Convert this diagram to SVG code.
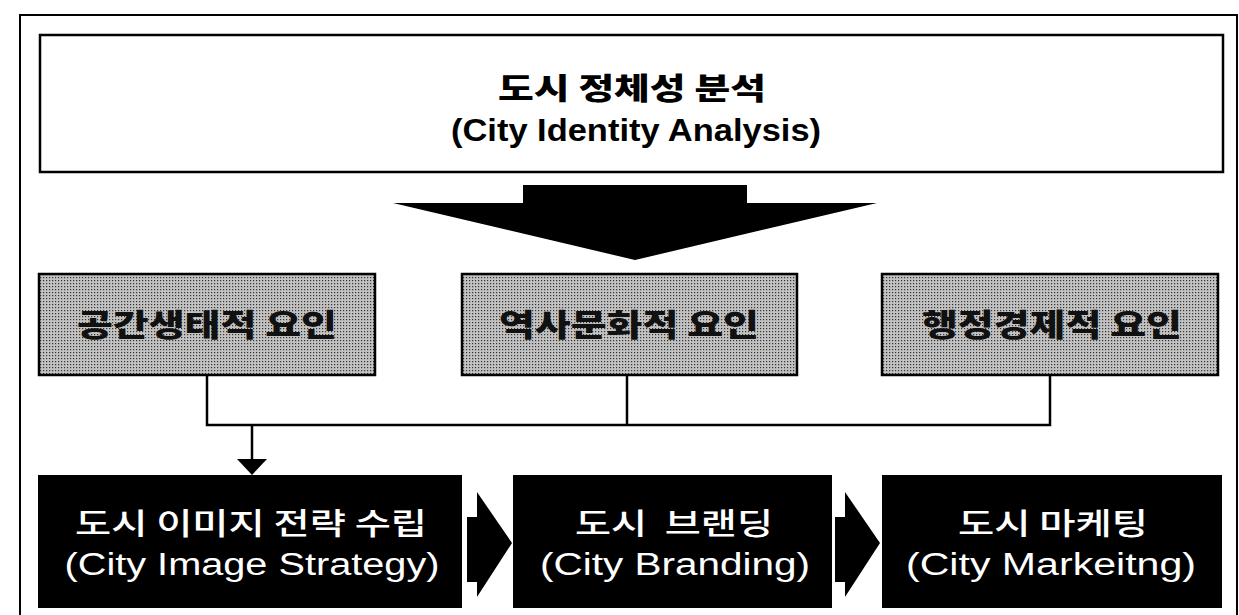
<svg xmlns="http://www.w3.org/2000/svg" width="1239" height="615" viewBox="0 0 1239 615">
<style>
.frame{fill:none;stroke:#000;stroke-width:2}
.topbox{fill:#fff;stroke:#000;stroke-width:2.5}
.gray{fill:url(#dots);stroke:#000;stroke-width:2.5}
.dark{fill:#000;stroke:none}
.conn{fill:none;stroke:#000;stroke-width:2.5}
.title{font-family:"Noto Sans CJK KR",sans-serif;font-weight:900;font-size:30px;fill:#000;text-anchor:middle}
.titleen{font-family:"Liberation Sans","Noto Sans",sans-serif;font-weight:bold;font-size:32px;fill:#000;text-anchor:middle}
.gtxt{font-family:"Noto Sans CJK KR",sans-serif;font-weight:900;font-size:31px;fill:#111;text-anchor:middle}
.wk{font-family:"Noto Sans CJK KR",sans-serif;font-weight:500;font-size:30px;fill:#fff;text-anchor:middle;white-space:pre}
.we{font-family:"Liberation Sans","Noto Sans",sans-serif;font-size:31px;fill:#fff;text-anchor:middle}
</style>
<defs>
<pattern id="dots" width="3" height="3" patternUnits="userSpaceOnUse">
<rect width="3" height="3" fill="#c2c2c2"/>
<rect x="1" y="1" width="1.2" height="1.2" fill="#333"/>
</pattern>
</defs>
<rect class="frame" x="20" y="15" width="1217" height="610"/>
<g id="node-identity">
<rect class="topbox" x="40" y="35" width="1183" height="137"/>
<text class="title" x="632" y="99" textLength="268" lengthAdjust="spacingAndGlyphs">도시 정체성 분석</text>
<text class="titleen" x="636" y="141" textLength="370" lengthAdjust="spacingAndGlyphs">(City Identity Analysis)</text>
</g>
<g id="big-arrow">
<polygon class="dark" points="523,185 747,185 747,203 877,203 635,260 393,203 523,203"/>
</g>
<g id="node-factor1">
<rect class="gray" x="39" y="274" width="336" height="101"/>
<text class="gtxt" x="207" y="336" textLength="260" lengthAdjust="spacingAndGlyphs">공간생태적 요인</text>
</g>
<g id="node-factor2">
<rect class="gray" x="462" y="274" width="335" height="101"/>
<text class="gtxt" x="629" y="336" textLength="260" lengthAdjust="spacingAndGlyphs">역사문화적 요인</text>
</g>
<g id="node-factor3">
<rect class="gray" x="882" y="274" width="336" height="101"/>
<text class="gtxt" x="1052" y="336" textLength="260" lengthAdjust="spacingAndGlyphs">행정경제적 요인</text>
</g>
<g id="connectors">
<polyline class="conn" points="207,375 207,425 1050,425 1050,375"/>
<line class="conn" x1="627" y1="375" x2="627" y2="425"/>
<line class="conn" x1="252" y1="425" x2="252" y2="462"/>
<polygon class="dark" points="237,459 267,459 252,475"/>
<polygon class="dark" points="467,517 477,517 477,492 512,543 477,597 477,582 467,582"/>
<polygon class="dark" points="835,517 845,517 845,492 880,543 845,597 845,582 835,582"/>
</g>
<g id="node-strategy">
<rect class="dark" x="38" y="475" width="424" height="133"/>
<text class="wk" x="251" y="534" textLength="352" lengthAdjust="spacingAndGlyphs">도시 이미지 전략 수립</text>
<text class="we" x="252" y="575" textLength="375" lengthAdjust="spacingAndGlyphs">(City Image Strategy)</text>
</g>
<g id="node-branding">
<rect class="dark" x="513" y="475" width="319" height="133"/>
<text class="wk" x="674" y="534" textLength="198" lengthAdjust="spacingAndGlyphs">도시  브랜딩</text>
<text class="we" x="675" y="575" textLength="270" lengthAdjust="spacingAndGlyphs">(City Branding)</text>
</g>
<g id="node-marketing">
<rect class="dark" x="882" y="475" width="340" height="133"/>
<text class="wk" x="1053" y="534" textLength="190" lengthAdjust="spacingAndGlyphs">도시 마케팅</text>
<text class="we" x="1051" y="575" textLength="290" lengthAdjust="spacingAndGlyphs">(City Markeitng)</text>
</g>
</svg>
